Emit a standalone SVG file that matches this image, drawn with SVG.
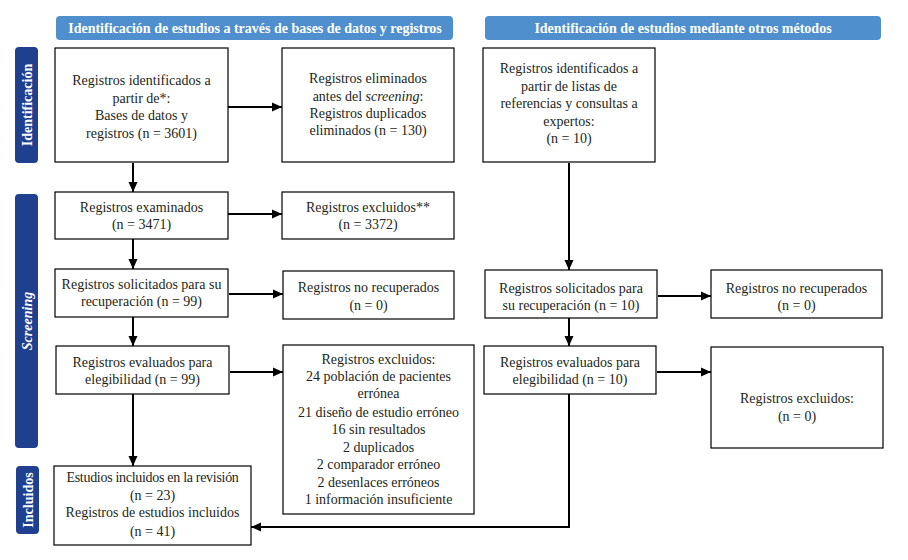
<svg xmlns="http://www.w3.org/2000/svg" width="908" height="560" viewBox="0 0 908 560">
<defs>
<style>
.box{fill:#fff;stroke:#000;stroke-width:1.2}
.t{font-family:"Liberation Serif","Times New Roman",serif;font-size:14px;fill:#231f20;text-anchor:middle}
.hdr{fill:#4f8fcd}
.ht{font-family:"Liberation Serif","Times New Roman",serif;font-size:14px;font-weight:bold;fill:#fff;text-anchor:middle}
.side{fill:#1f3f8f}
.st{font-family:"Liberation Serif","Times New Roman",serif;font-size:14px;font-weight:bold;fill:#fff;text-anchor:middle}
.c{fill:none;stroke:#000;stroke-width:2}
</style>
<marker id="ah" markerUnits="userSpaceOnUse" markerWidth="10" markerHeight="10" viewBox="0 0 10 10" refX="10" refY="5" orient="auto">
<path d="M0,0.5 L10,5 L0,9.5 Z" fill="#000"/>
</marker>
</defs>

<g id="header-left"><rect class="hdr" x="56" y="16" width="397" height="24" rx="4"/><text class="ht" x="255" y="33">Identificación de estudios a través de bases de datos y registros</text></g>
<g id="header-right"><rect class="hdr" x="485" y="16" width="396" height="24" rx="4"/><text class="ht" x="683" y="33">Identificación de estudios mediante otros métodos</text></g>

<g id="side-identificacion"><rect class="side" x="15" y="47" width="23" height="116" rx="4"/><text class="st" transform="translate(31.5,105) rotate(-90)">Identificación</text></g>
<g id="side-screening"><rect class="side" x="15" y="194" width="23" height="254" rx="4"/><text class="st" font-style="italic" transform="translate(31.5,321) rotate(-90)">Screening</text></g>
<g id="side-incluidos"><rect class="side" x="16" y="466" width="23" height="68" rx="4"/><text class="st" transform="translate(32.5,500) rotate(-90)">Incluidos</text></g>

<g id="connectors">
<line class="c" x1="228" y1="107" x2="282" y2="107" marker-end="url(#ah)"/>
<line class="c" x1="133" y1="163" x2="133" y2="192" marker-end="url(#ah)"/>
<line class="c" x1="228" y1="214" x2="282" y2="214" marker-end="url(#ah)"/>
<line class="c" x1="133" y1="239" x2="133" y2="269" marker-end="url(#ah)"/>
<line class="c" x1="229" y1="294" x2="283" y2="294" marker-end="url(#ah)"/>
<line class="c" x1="133" y1="317" x2="133" y2="346" marker-end="url(#ah)"/>
<line class="c" x1="230" y1="372" x2="283" y2="372" marker-end="url(#ah)"/>
<line class="c" x1="133" y1="394" x2="133" y2="466" marker-end="url(#ah)"/>
<line class="c" x1="569" y1="163" x2="569" y2="270" marker-end="url(#ah)"/>
<line class="c" x1="658" y1="296" x2="711" y2="296" marker-end="url(#ah)"/>
<line class="c" x1="569" y1="318" x2="569" y2="346" marker-end="url(#ah)"/>
<line class="c" x1="657" y1="372" x2="711" y2="372" marker-end="url(#ah)"/>
<polyline class="c" points="569,394 569,527 251,527" marker-end="url(#ah)"/>
</g>

<g id="n-identificados"><rect class="box" x="55" y="48" width="173" height="114"/>
<text class="t" x="141.5" y="85">Registros identificados a</text>
<text class="t" x="141.5" y="102.5">partir de*:</text>
<text class="t" x="141.5" y="120">Bases de datos y</text>
<text class="t" x="141.5" y="137.5">registros (n = 3601)</text></g>

<g id="n-eliminados"><rect class="box" x="282" y="48" width="172" height="114"/>
<text class="t" x="368" y="83">Registros eliminados</text>
<text class="t" x="368" y="100.5">antes del <tspan font-style="italic">screening</tspan>:</text>
<text class="t" x="368" y="117.5">Registros duplicados</text>
<text class="t" x="368" y="135">eliminados (n = 130)</text></g>

<g id="n-otros"><rect class="box" x="483" y="48" width="172" height="114"/>
<text class="t" x="569" y="73">Registros identificados a</text>
<text class="t" x="569" y="90.5">partir de listas de</text>
<text class="t" x="569" y="108">referencias y consultas a</text>
<text class="t" x="569" y="125.5">expertos:</text>
<text class="t" x="569" y="142.5">(n = 10)</text></g>

<g id="n-examinados"><rect class="box" x="55" y="192" width="173" height="47"/>
<text class="t" x="141.5" y="212">Registros examinados</text>
<text class="t" x="141.5" y="229">(n = 3471)</text></g>

<g id="n-excluidos1"><rect class="box" x="282" y="192" width="172" height="47"/>
<text class="t" x="368" y="212">Registros excluidos**</text>
<text class="t" x="368" y="229">(n = 3372)</text></g>

<g id="n-solicitados"><rect class="box" x="55" y="269" width="173" height="48"/>
<text class="t" x="141.5" y="289">Registros solicitados para su</text>
<text class="t" x="141.5" y="306">recuperación (n = 99)</text></g>

<g id="n-norecuperados"><rect class="box" x="283" y="271" width="171" height="48"/>
<text class="t" x="368.5" y="292">Registros no recuperados</text>
<text class="t" x="368.5" y="310">(n = 0)</text></g>

<g id="n-evaluados"><rect class="box" x="56" y="346" width="173" height="48"/>
<text class="t" x="142.5" y="367">Registros evaluados para</text>
<text class="t" x="142.5" y="383.5">elegibilidad (n = 99)</text></g>

<g id="n-excluidos2"><rect class="box" x="283" y="345" width="191" height="169"/>
<text class="t" x="378.5" y="364">Registros excluidos:</text>
<text class="t" x="378.5" y="381">24 población de pacientes</text>
<text class="t" x="378.5" y="398">errónea</text>
<text class="t" x="378.5" y="416.5">21 diseño de estudio erróneo</text>
<text class="t" x="378.5" y="434">16 sin resultados</text>
<text class="t" x="378.5" y="452">2 duplicados</text>
<text class="t" x="378.5" y="469">2 comparador erróneo</text>
<text class="t" x="378.5" y="487">2 desenlaces erróneos</text>
<text class="t" x="378.5" y="504">1 información insuficiente</text></g>

<g id="n-incluidos"><rect class="box" x="54" y="466" width="197" height="79"/>
<text class="t" x="152.5" y="482" letter-spacing="-0.3">Estudios incluidos en la revisión</text>
<text class="t" x="152.5" y="500">(n = 23)</text>
<text class="t" x="152.5" y="517">Registros de estudios incluidos</text>
<text class="t" x="152.5" y="536">(n = 41)</text></g>

<g id="n-solicitados2"><rect class="box" x="485" y="270" width="172" height="48"/>
<text class="t" x="571" y="293">Registros solicitados para</text>
<text class="t" x="571" y="310">su recuperación (n = 10)</text></g>

<g id="n-norecuperados2"><rect class="box" x="711" y="270" width="171" height="48"/>
<text class="t" x="796.5" y="293">Registros no recuperados</text>
<text class="t" x="796.5" y="310">(n = 0)</text></g>

<g id="n-evaluados2"><rect class="box" x="484" y="346" width="172" height="48"/>
<text class="t" x="570" y="367">Registros evaluados para</text>
<text class="t" x="570" y="384">elegibilidad (n = 10)</text></g>

<g id="n-excluidos3"><rect class="box" x="711" y="347" width="172" height="101"/>
<text class="t" x="797" y="403">Registros excluidos:</text>
<text class="t" x="797" y="421">(n = 0)</text></g>
</svg>
